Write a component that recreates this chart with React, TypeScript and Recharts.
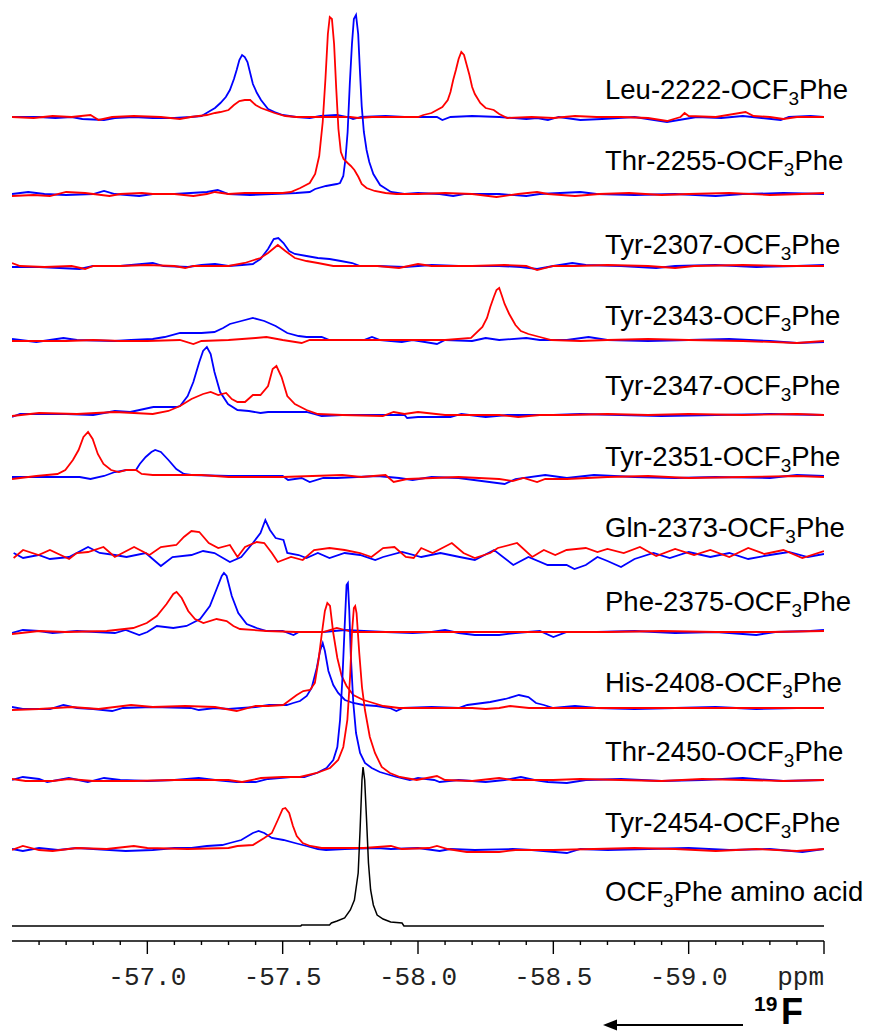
import React from 'react';
import { LineChart, Line, XAxis, YAxis, Customized } from 'recharts';

type Pt = [number, number];

// ---------- spectra: [ppm, intensity] ----------
const leuBlue: Pt[] = [[-56.5,0],[-56.6,0],[-56.66,-1],[-56.72,0],[-56.76,-2],[-56.84,-3],[-56.88,-1],[-56.95,0],[-57.02,-1],[-57.1,-1],[-57.16,0],[-57.2,1],[-57.225,5],[-57.25,9],[-57.27,14],[-57.29,20],[-57.305,27],[-57.32,38],[-57.33,47],[-57.34,57],[-57.35,62],[-57.36,60],[-57.37,55],[-57.38,44],[-57.39,33],[-57.405,24],[-57.42,17],[-57.446,8],[-57.47,5],[-57.5,2],[-57.55,0],[-57.6,-1],[-57.64,1],[-57.7,2],[-57.74,0],[-57.76,-2],[-57.79,0],[-57.88,1],[-57.95,0],[-58.07,0],[-58.09,-3],[-58.12,0],[-58.2,1],[-58.3,0],[-58.4,-2],[-58.44,-1],[-58.48,-3],[-58.52,0],[-58.6,-3],[-58.68,-2],[-58.8,0],[-58.92,-5],[-59.03,0],[-59.12,-1],[-59.2,1],[-59.34,-3],[-59.37,0],[-59.45,1],[-59.5,0]];
const leuRed: Pt[] = [[-56.5,0],[-56.58,-1],[-56.65,1],[-56.72,0],[-56.79,2],[-56.82,-3],[-56.87,0],[-56.95,1],[-57.05,0],[-57.12,-2],[-57.16,0],[-57.22,2],[-57.25,4],[-57.27,5],[-57.3,7],[-57.32,12],[-57.34,16],[-57.36,17],[-57.38,17],[-57.4,12],[-57.42,9],[-57.45,6],[-57.47,4],[-57.51,1],[-57.55,0],[-57.75,0],[-57.78,-1],[-57.83,0],[-58.0,0],[-58.02,2],[-58.05,4],[-58.07,7],[-58.09,10],[-58.11,17],[-58.12,25],[-58.13,37],[-58.14,47],[-58.15,58],[-58.16,65],[-58.17,62],[-58.18,52],[-58.19,42],[-58.2,30],[-58.21,23],[-58.23,14],[-58.25,9],[-58.28,7],[-58.3,3],[-58.33,-1],[-58.42,0],[-58.5,-1],[-58.58,1],[-58.66,0],[-58.75,0],[-58.85,-1],[-58.92,-4],[-58.97,0],[-58.985,4],[-59.0,1],[-59.1,0],[-59.21,5],[-59.24,1],[-59.3,0],[-59.35,-2],[-59.4,0],[-59.5,0]];

const thr2255Blue: Pt[] = [[-56.5,0],[-56.56,2],[-56.62,0],[-56.7,-1],[-56.8,0],[-56.84,3],[-56.88,0],[-56.97,-2],[-57.02,0],[-57.1,0],[-57.22,2],[-57.26,4],[-57.3,0],[-57.38,-1],[-57.46,0],[-57.55,1],[-57.6,2],[-57.62,5],[-57.66,8],[-57.7,10],[-57.712,11],[-57.724,18],[-57.732,35],[-57.74,62],[-57.748,110],[-57.756,150],[-57.763,175],[-57.771,179],[-57.779,160],[-57.786,120],[-57.792,88],[-57.8,62],[-57.81,44],[-57.82,32],[-57.835,20],[-57.86,9],[-57.9,2],[-57.95,0],[-58.0,1],[-58.08,0],[-58.13,-2],[-58.17,0],[-58.3,0],[-58.4,-2],[-58.45,0],[-58.6,2],[-58.66,0],[-58.8,-1],[-58.95,0],[-59.1,-2],[-59.2,0],[-59.35,1],[-59.5,0]];
const thr2255Red: Pt[] = [[-56.5,-2],[-56.58,-1],[-56.64,-2],[-56.7,2],[-56.77,1],[-56.8,0],[-56.86,-2],[-56.9,0],[-56.98,1],[-57.02,0],[-57.1,0],[-57.17,-2],[-57.22,0],[-57.25,2],[-57.3,0],[-57.36,1],[-57.45,1],[-57.5,1],[-57.53,2],[-57.565,6],[-57.6,11],[-57.62,20],[-57.635,38],[-57.648,72],[-57.658,115],[-57.667,160],[-57.674,177],[-57.682,175],[-57.69,150],[-57.698,105],[-57.706,65],[-57.715,42],[-57.725,35],[-57.74,31],[-57.752,28],[-57.765,24],[-57.78,17],[-57.792,10],[-57.81,6],[-57.84,3],[-57.88,1],[-57.92,0],[-58.0,0],[-58.1,1],[-58.2,0],[-58.29,-3],[-58.37,0],[-58.44,2],[-58.48,0],[-58.58,-2],[-58.67,0],[-58.78,1],[-58.9,-1],[-59.0,0],[-59.15,1],[-59.3,-1],[-59.42,0],[-59.5,1]];

const tyr2307Blue: Pt[] = [[-56.5,-1],[-56.6,-1],[-56.75,-3],[-56.8,0],[-56.9,0],[-56.98,2],[-57.02,3],[-57.06,0],[-57.15,-1],[-57.2,1],[-57.25,2],[-57.3,0],[-57.35,1],[-57.39,2],[-57.418,7],[-57.446,17],[-57.467,27],[-57.484,28],[-57.503,23],[-57.524,15],[-57.545,12],[-57.588,10],[-57.63,8],[-57.673,7],[-57.715,5],[-57.757,3],[-57.786,0],[-57.85,0],[-57.95,-1],[-58.05,1],[-58.15,0],[-58.3,0],[-58.38,-1],[-58.44,-3],[-58.5,0],[-58.57,3],[-58.62,1],[-58.75,0],[-58.88,-2],[-58.95,0],[-59.1,1],[-59.25,-1],[-59.4,0],[-59.5,1]];
const tyr2307Red: Pt[] = [[-56.5,3],[-56.53,0],[-56.62,-1],[-56.72,0],[-56.77,-3],[-56.8,0],[-56.9,0],[-57.0,1],[-57.1,0],[-57.14,-2],[-57.17,0],[-57.3,0],[-57.36,3],[-57.418,8],[-57.446,13],[-57.482,21],[-57.51,15],[-57.545,8],[-57.588,5],[-57.63,3],[-57.687,0],[-57.85,0],[-57.93,-2],[-58.0,2],[-58.05,0],[-58.2,0],[-58.32,1],[-58.4,0],[-58.44,-4],[-58.5,0],[-58.58,0],[-58.7,1],[-58.85,0],[-58.95,-2],[-59.02,0],[-59.2,1],[-59.35,0],[-59.5,0]];

const tyr2343Blue: Pt[] = [[-56.5,1],[-56.59,-2],[-56.64,0],[-56.69,2],[-56.74,0],[-56.88,-1],[-56.94,0],[-57.02,1],[-57.064,3],[-57.121,7],[-57.2,7],[-57.248,8],[-57.28,12],[-57.305,16],[-57.347,19],[-57.39,22],[-57.432,19],[-57.474,14],[-57.517,7],[-57.559,4],[-57.588,3],[-57.644,3],[-57.673,0],[-57.8,0],[-57.83,3],[-57.86,0],[-57.94,-2],[-57.98,0],[-58.07,-4],[-58.1,0],[-58.2,-1],[-58.25,2],[-58.3,0],[-58.4,2],[-58.45,0],[-58.55,0],[-58.63,3],[-58.7,0],[-58.85,-1],[-59.0,0],[-59.15,1],[-59.3,-1],[-59.4,-3],[-59.5,-2]];
const tyr2343Red: Pt[] = [[-56.5,-1],[-56.6,-1],[-56.7,-1],[-56.8,0],[-56.9,-1],[-57.0,-1],[-57.12,0],[-57.17,-4],[-57.2,-1],[-57.3,0],[-57.4,2],[-57.44,3],[-57.5,0],[-57.57,-3],[-57.6,0],[-57.8,0],[-58.0,0],[-58.1,0],[-58.196,2],[-58.238,13],[-58.255,22],[-58.267,33],[-58.28,43],[-58.29,50],[-58.3,52],[-58.309,45],[-58.32,36],[-58.337,26],[-58.36,15],[-58.38,9],[-58.408,6],[-58.45,3],[-58.493,0],[-58.6,-1],[-58.7,0],[-58.85,1],[-59.0,0],[-59.2,-1],[-59.4,-3],[-59.5,-1]];

const tyr2347Blue: Pt[] = [[-56.5,-2],[-56.53,1],[-56.7,1],[-56.8,0],[-56.88,4],[-56.937,3],[-57.022,8],[-57.107,8],[-57.121,9],[-57.149,19],[-57.17,33],[-57.192,53],[-57.206,64],[-57.22,68],[-57.234,61],[-57.248,43],[-57.269,23],[-57.298,11],[-57.333,5],[-57.375,4],[-57.418,2],[-57.446,3],[-57.588,3],[-57.616,1],[-57.644,-1],[-57.72,0],[-57.95,0],[-57.96,-3],[-58.0,-2],[-58.12,-2],[-58.16,1],[-58.25,-2],[-58.33,0],[-58.5,0],[-58.6,1],[-58.75,0],[-58.9,-1],[-59.1,0],[-59.3,1],[-59.5,0]];
const tyr2347Red: Pt[] = [[-56.5,-1],[-56.6,2],[-56.74,1],[-56.88,3],[-57.02,1],[-57.078,4],[-57.121,9],[-57.163,16],[-57.206,21],[-57.234,23],[-57.262,20],[-57.291,22],[-57.312,16],[-57.333,13],[-57.361,13],[-57.39,20],[-57.418,20],[-57.446,29],[-57.463,46],[-57.477,49],[-57.496,38],[-57.517,19],[-57.545,11],[-57.588,5],[-57.63,1],[-57.72,0],[-57.87,-1],[-57.91,3],[-57.95,1],[-58.0,3],[-58.1,0],[-58.3,0],[-58.37,-2],[-58.45,0],[-58.55,0],[-58.7,1],[-58.85,0],[-59.0,1],[-59.2,0],[-59.4,1],[-59.5,0]];

const tyr2351Blue: Pt[] = [[-56.5,0],[-56.75,0],[-56.79,-2],[-56.84,1],[-56.88,5],[-56.923,7],[-56.958,7],[-56.972,13],[-56.994,20],[-57.015,25],[-57.029,27],[-57.05,25],[-57.078,17],[-57.107,8],[-57.135,3],[-57.163,2],[-57.3,1],[-57.5,1],[-57.52,-3],[-57.57,-1],[-57.6,-5],[-57.65,-1],[-57.7,-1],[-57.85,1],[-57.93,-1],[-57.98,-3],[-58.05,0],[-58.15,-1],[-58.32,-7],[-58.36,-2],[-58.47,2],[-58.55,-1],[-58.65,2],[-58.8,0],[-58.95,-1],[-59.1,0],[-59.3,-1],[-59.4,2],[-59.5,1]];
const tyr2351Red: Pt[] = [[-56.5,-2],[-56.59,1],[-56.668,3],[-56.697,7],[-56.725,17],[-56.746,27],[-56.764,40],[-56.781,45],[-56.798,38],[-56.817,23],[-56.838,13],[-56.866,7],[-56.895,5],[-56.923,7],[-56.958,7],[-56.979,3],[-57.02,2],[-57.2,2],[-57.3,0],[-57.5,0],[-57.72,2],[-57.79,0],[-57.88,2],[-57.91,-5],[-57.96,-2],[-58.15,0],[-58.3,-2],[-58.35,-4],[-58.39,-1],[-58.44,-5],[-58.47,-2],[-58.55,-2],[-58.7,0],[-58.85,1],[-59.0,-1],[-59.2,0],[-59.4,1],[-59.5,0]];

const gln2373Blue: Pt[] = [[-56.506,2],[-56.541,-3],[-56.598,0],[-56.64,-4],[-56.711,-2],[-56.781,8],[-56.824,2],[-56.88,0],[-56.923,-2],[-56.994,2],[-57.05,-11],[-57.093,-2],[-57.163,0],[-57.206,4],[-57.248,2],[-57.305,-7],[-57.347,-2],[-57.39,12],[-57.418,22],[-57.436,35],[-57.453,25],[-57.474,17],[-57.503,15],[-57.517,2],[-57.559,0],[-57.588,-3],[-57.63,2],[-57.673,-3],[-57.729,2],[-57.786,0],[-57.842,-5],[-57.871,-2],[-57.941,3],[-58.012,-2],[-58.083,2],[-58.154,-2],[-58.21,-5],[-58.281,5],[-58.352,-10],[-58.408,-2],[-58.479,-10],[-58.549,-10],[-58.578,-14],[-58.62,-10],[-58.663,-2],[-58.7,-6],[-58.75,-12],[-58.8,-4],[-58.87,2],[-58.93,-3],[-59.0,3],[-59.08,-2],[-59.15,2],[-59.22,-4],[-59.3,0],[-59.37,3],[-59.44,-2],[-59.5,1]];
const gln2373Red: Pt[] = [[-56.506,-3],[-56.541,5],[-56.598,0],[-56.64,5],[-56.711,-4],[-56.739,2],[-56.781,3],[-56.838,8],[-56.88,-2],[-56.951,8],[-57.008,0],[-57.05,8],[-57.107,10],[-57.135,18],[-57.163,24],[-57.192,23],[-57.227,12],[-57.262,7],[-57.305,10],[-57.333,-2],[-57.361,8],[-57.404,13],[-57.432,12],[-57.46,2],[-57.482,-7],[-57.531,-2],[-57.574,-5],[-57.616,5],[-57.673,7],[-57.729,5],[-57.786,2],[-57.828,-2],[-57.871,7],[-57.913,8],[-57.955,-2],[-57.984,-3],[-58.012,7],[-58.054,2],[-58.125,12],[-58.168,2],[-58.21,-3],[-58.267,2],[-58.295,7],[-58.366,12],[-58.422,-2],[-58.465,5],[-58.507,0],[-58.549,5],[-58.62,7],[-58.663,3],[-58.7,6],[-58.76,2],[-58.82,8],[-58.88,-1],[-58.95,6],[-59.02,0],[-59.08,5],[-59.15,-2],[-59.22,7],[-59.28,1],[-59.35,5],[-59.42,-3],[-59.5,4]];

const phe2375Blue: Pt[] = [[-56.5,-1],[-56.54,2],[-56.6,1],[-56.65,-1],[-56.74,1],[-56.88,-1],[-56.92,2],[-56.97,-3],[-57.0,0],[-57.035,6],[-57.096,4],[-57.145,6],[-57.195,13],[-57.231,26],[-57.256,43],[-57.275,56],[-57.283,59],[-57.293,56],[-57.312,36],[-57.336,19],[-57.367,8],[-57.404,4],[-57.441,1],[-57.5,1],[-57.54,-3],[-57.56,0],[-57.65,0],[-57.73,2],[-57.8,1],[-57.88,0],[-57.98,-1],[-58.05,0],[-58.1,2],[-58.15,-1],[-58.21,-3],[-58.3,-3],[-58.36,-1],[-58.45,1],[-58.5,-5],[-58.55,0],[-58.66,0],[-58.8,1],[-58.95,-1],[-59.1,0],[-59.25,-3],[-59.32,0],[-59.45,1],[-59.5,2]];
const phe2375Red: Pt[] = [[-56.5,-2],[-56.6,1],[-56.7,0],[-56.85,1],[-56.948,4],[-56.998,9],[-57.035,16],[-57.071,28],[-57.096,38],[-57.108,40],[-57.127,34],[-57.151,21],[-57.176,13],[-57.207,9],[-57.256,13],[-57.293,11],[-57.318,6],[-57.342,3],[-57.441,1],[-57.55,0],[-57.65,0],[-57.7,4],[-57.73,2],[-57.76,0],[-57.9,0],[-58.1,0],[-58.3,0],[-58.5,0],[-58.7,0],[-58.9,1],[-59.1,0],[-59.3,0],[-59.5,1]];

const his2408Blue: Pt[] = [[-56.5,1],[-56.54,-1],[-56.64,-1],[-56.69,3],[-56.74,0],[-56.8,-1],[-56.87,-3],[-56.91,0],[-57.02,1],[-57.16,0],[-57.19,-2],[-57.25,0],[-57.3,-1],[-57.4,1],[-57.45,3],[-57.515,3],[-57.539,5],[-57.564,7],[-57.589,12],[-57.607,20],[-57.626,40],[-57.638,57],[-57.648,65],[-57.656,57],[-57.669,37],[-57.687,23],[-57.705,15],[-57.73,8],[-57.761,5],[-57.798,3],[-57.847,2],[-57.896,0],[-57.92,-3],[-57.945,0],[-58.05,1],[-58.15,0],[-58.182,3],[-58.267,6],[-58.323,9],[-58.373,13],[-58.408,11],[-58.436,5],[-58.465,3],[-58.5,0],[-58.58,2],[-58.66,0],[-58.8,-1],[-58.95,0],[-59.1,1],[-59.25,-1],[-59.4,0],[-59.5,0]];
const his2408Red: Pt[] = [[-56.5,-2],[-56.6,-1],[-56.72,1],[-56.82,-1],[-56.94,3],[-57.02,1],[-57.14,2],[-57.25,1],[-57.33,-3],[-57.4,2],[-57.446,2],[-57.502,3],[-57.527,8],[-57.552,13],[-57.576,17],[-57.601,18],[-57.619,25],[-57.632,47],[-57.644,73],[-57.656,97],[-57.665,105],[-57.675,102],[-57.687,75],[-57.702,50],[-57.718,32],[-57.736,22],[-57.761,13],[-57.798,8],[-57.835,5],[-57.872,2],[-57.93,0],[-58.2,0],[-58.25,-1],[-58.3,0],[-58.34,2],[-58.41,0],[-58.6,0],[-58.8,0],[-59.0,0],[-59.2,0],[-59.5,0]];

const thr2450Blue: Pt[] = [[-56.5,0],[-56.54,3],[-56.6,1],[-56.63,-2],[-56.71,2],[-56.78,-2],[-56.84,2],[-56.9,0],[-57.0,-1],[-57.1,0],[-57.19,2],[-57.25,0],[-57.33,-2],[-57.4,-2],[-57.446,1],[-57.53,3],[-57.58,3],[-57.626,7],[-57.662,12],[-57.687,20],[-57.702,33],[-57.712,60],[-57.721,103],[-57.729,153],[-57.736,195],[-57.741,197],[-57.746,170],[-57.752,123],[-57.761,77],[-57.771,47],[-57.786,27],[-57.804,17],[-57.829,12],[-57.859,8],[-57.896,5],[-57.921,3],[-57.97,0],[-58.0,2],[-58.06,0],[-58.08,-2],[-58.15,0],[-58.25,-2],[-58.32,0],[-58.38,3],[-58.43,0],[-58.48,-2],[-58.55,-3],[-58.62,0],[-58.75,1],[-58.9,-1],[-59.05,0],[-59.2,2],[-59.35,-1],[-59.5,0]];
const thr2450Red: Pt[] = [[-56.5,1],[-56.55,-1],[-56.65,-1],[-56.71,1],[-56.8,-1],[-56.95,-1],[-57.1,0],[-57.3,0],[-57.35,-2],[-57.42,2],[-57.5,3],[-57.564,3],[-57.626,7],[-57.675,12],[-57.705,20],[-57.724,33],[-57.739,60],[-57.749,103],[-57.756,147],[-57.763,172],[-57.768,174],[-57.773,167],[-57.783,127],[-57.793,93],[-57.804,70],[-57.822,43],[-57.841,27],[-57.866,13],[-57.896,7],[-57.933,3],[-57.995,0],[-58.07,4],[-58.1,0],[-58.2,-1],[-58.3,2],[-58.35,0],[-58.5,0],[-58.6,1],[-58.75,0],[-58.9,-1],[-59.05,1],[-59.2,0],[-59.35,-1],[-59.5,0]];

const tyr2454Blue: Pt[] = [[-56.5,0],[-56.54,-2],[-56.6,1],[-56.67,-1],[-56.74,1],[-56.8,0],[-56.92,-2],[-57.02,-1],[-57.1,1],[-57.163,1],[-57.22,3],[-57.277,4],[-57.305,6],[-57.347,9],[-57.39,16],[-57.411,18],[-57.432,16],[-57.46,11],[-57.503,9],[-57.545,6],[-57.588,3],[-57.63,0],[-57.66,-1],[-57.73,0],[-57.85,1],[-57.9,0],[-58.0,1],[-58.08,-2],[-58.12,0],[-58.21,-1],[-58.35,0],[-58.42,-1],[-58.55,-4],[-58.6,0],[-58.7,-1],[-58.85,0],[-59.0,1],[-59.15,-1],[-59.3,0],[-59.42,-3],[-59.5,0]];
const tyr2454Red: Pt[] = [[-56.5,-1],[-56.54,3],[-56.6,-1],[-56.65,-2],[-56.74,1],[-56.85,0],[-56.95,3],[-57.0,1],[-57.15,0],[-57.3,1],[-57.333,3],[-57.39,4],[-57.432,11],[-57.46,16],[-57.482,29],[-57.5,40],[-57.51,41],[-57.524,36],[-57.538,23],[-57.552,13],[-57.574,6],[-57.602,3],[-57.644,1],[-57.8,1],[-57.9,3],[-57.94,0],[-58.04,1],[-58.07,3],[-58.11,0],[-58.18,-3],[-58.3,-3],[-58.36,-1],[-58.5,-1],[-58.65,0],[-58.8,1],[-58.95,0],[-59.1,-2],[-59.25,0],[-59.4,-2],[-59.5,0]];

const aminoAcidBlack: Pt[] = [[-56.5,0],[-57.567,0],[-57.57,1],[-57.673,1],[-57.68,3],[-57.701,5],[-57.729,8],[-57.75,16],[-57.765,26],[-57.779,53],[-57.786,96],[-57.793,146],[-57.797,159],[-57.803,146],[-57.81,106],[-57.817,63],[-57.825,36],[-57.835,21],[-57.849,11],[-57.871,7],[-57.899,4],[-57.941,3],[-57.948,0],[-59.5,0]];

// ---------- labels & tick values ----------
const RESIDUES = ['Leu-2222', 'Thr-2255', 'Tyr-2307', 'Tyr-2343', 'Tyr-2347', 'Tyr-2351', 'Gln-2373', 'Phe-2375', 'His-2408', 'Thr-2450', 'Tyr-2454'];
const BLUE_SERIES = [leuBlue, thr2255Blue, tyr2307Blue, tyr2343Blue, tyr2347Blue, tyr2351Blue, gln2373Blue, phe2375Blue, his2408Blue, thr2450Blue, tyr2454Blue];
const RED_SERIES = [leuRed, thr2255Red, tyr2307Red, tyr2343Red, tyr2347Red, tyr2351Red, gln2373Red, phe2375Red, his2408Red, thr2450Red, tyr2454Red];
const X_TICKS = [-56.6, -56.7, -56.8, -56.9, -57.0, -57.1, -57.2, -57.3, -57.4, -57.5, -57.6, -57.7, -57.8, -57.9, -58.0, -58.1, -58.2, -58.3, -58.4, -58.5, -58.6, -58.7, -58.8, -58.9, -59.0, -59.1, -59.2, -59.3, -59.4, -59.5];
const X_DOMAIN: [number, number] = [-59.5, -56.5];

// ---------- layout ----------
const W = 872;
const H = 1032;
const PLOT_BOTTOM = 941;
const BASELINES = [117, 194, 266, 340, 415, 477, 555, 632, 708, 780, 849, 926];
const LABEL_Y = [99, 170, 254, 325, 395, 466, 537, 611, 692, 761, 832, 901];
const LABEL_X = 605;
const SANS = "'Liberation Sans', Arial, Helvetica, sans-serif";
const MONO = "'Liberation Mono', 'Courier New', Courier, monospace";

const toData = (pts: Pt[], baseline: number) =>
  pts.map(([x, v]) => ({ x, y: v + (PLOT_BOTTOM - baseline) }));

const AxisTick = (props: any) => {
  const { x, y, payload } = props;
  const v = payload.value as number;
  const major = Math.abs(v * 2 - Math.round(v * 2)) < 1e-6;
  const isEnd = Math.abs(v - X_DOMAIN[0]) < 1e-6;
  const label = isEnd ? 'ppm' : major ? v.toFixed(1) : null;
  return (
    <g>
      <line x1={x} y1={y} x2={x} y2={y + (major ? 13 : 4)} stroke="#000" strokeWidth={1.4} />
      {label && (
        <text x={x} y={y + 44} textAnchor={isEnd ? 'end' : 'middle'} fontFamily={MONO} fontSize={26} fill="#222">
          {label}
        </text>
      )}
    </g>
  );
};

const Labels = () => (
  <g>
    {RESIDUES.map((r, i) => (
      <text key={r} x={LABEL_X} y={LABEL_Y[i]} fontFamily={SANS} fontSize={27.5} fill="#000">
        {r}-OCF
        <tspan dy={6} fontSize={19}>3</tspan>
        <tspan dy={-6}>Phe</tspan>
      </text>
    ))}
    <text x={LABEL_X} y={LABEL_Y[11]} fontFamily={SANS} fontSize={27.5} fill="#000">
      OCF
      <tspan dy={6} fontSize={19}>3</tspan>
      <tspan dy={-6}>Phe amino acid</tspan>
    </text>
    <line x1={614} y1={1025} x2={743} y2={1025} stroke="#000" strokeWidth={2} />
    <polygon points="603,1025 617,1019.5 617,1030.5" fill="#000" />
    <text x={754} y={1011} fontFamily={SANS} fontWeight="bold" fontSize={21} fill="#000">19</text>
    <text x={781} y={1024} fontFamily={SANS} fontWeight="bold" fontSize={36} fill="#000">F</text>
  </g>
);

export default function App() {
  return (
    <div style={{ position: 'absolute', left: 0, top: 0, width: W, height: H, background: '#fff' }}>
      <LineChart width={W} height={H} margin={{ top: 0, right: 48, bottom: 31, left: 12 }}>
        <XAxis
          dataKey="x"
          type="number"
          domain={X_DOMAIN}
          reversed
          allowDataOverflow
          ticks={X_TICKS}
          interval={0}
          tickSize={0}
          tickMargin={0}
          tickLine={false}
          tick={<AxisTick />}
          axisLine={{ stroke: '#000', strokeWidth: 1.5 }}
          height={60}
        />
        <YAxis type="number" domain={[0, PLOT_BOTTOM]} hide allowDataOverflow />
        {RESIDUES.map((r, i) => [
          <Line
            key={r + '-b'}
            data={toData(BLUE_SERIES[i], BASELINES[i])}
            dataKey="y"
            type="linear"
            stroke="#0000ff"
            strokeWidth={1.8}
            dot={false}
            activeDot={false}
            isAnimationActive={false}
          />,
          <Line
            key={r + '-r'}
            data={toData(RED_SERIES[i], BASELINES[i])}
            dataKey="y"
            type="linear"
            stroke="#ff0000"
            strokeWidth={1.8}
            dot={false}
            activeDot={false}
            isAnimationActive={false}
          />,
        ])}
        <Line
          data={toData(aminoAcidBlack, BASELINES[11])}
          dataKey="y"
          type="linear"
          stroke="#000"
          strokeWidth={1.5}
          dot={false}
          activeDot={false}
          isAnimationActive={false}
        />
        <Customized component={Labels} />
      </LineChart>
    </div>
  );
}
